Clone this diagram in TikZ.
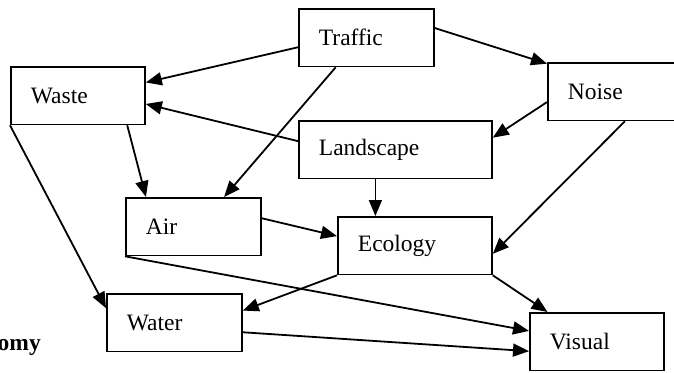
\documentclass[tikz,border=0pt]{standalone}
\usepackage{fontspec}
\setmainfont{Liberation Serif}
\usetikzlibrary{arrows.meta,calc}
\tikzset{
		>={Triangle[length=16pt,width=13pt]},
			box/.style={draw=black, line width=1.8pt, anchor=north west,
				text width=#1, inner xsep=20pt, inner ysep=0pt,
				minimum height=57.5pt, align=left,
				font=\fontsize{23.5}{28}\selectfont},
			link/.style={->, line width=1.8pt},
			annot/.style={font=\fontsize{23.5}{28}\selectfont\bfseries},
		}
\begin{document}
\begin{tikzpicture}
				[x=1pt, y=-1pt]
				\clip (0,0) rectangle (674,372);
				\node[box=95pt] (traffic)   at (298,8)   {Traffic};
				\node[box=94pt] (waste)     at (10,66)   {Waste};
				\node[box=90pt] (noise)     at (547,62)  {Noise};
				\node[box=153pt] (landscape) at (298,120) {Landscape};
				\node[box=95pt] (air)       at (125,197) {Air};
				\node[box=114pt] (ecology)  at (337,216) {Ecology};
				\node[box=95pt] (water)     at (106,293) {Water};
				\node[box=94pt] (visual)    at (529,312) {Visual};

				\node[annot, anchor=base east, inner sep=0pt] (omy) at (41,350) {omy};

				\draw[link] (traffic.188)     -- (waste.11);
				\draw[link] (traffic.224)     -- (air.44);
				\draw[link] (traffic.8)       -- (noise.157);
				\draw[link] (landscape.175)   -- (waste.353);
				\draw[link] (noise.189)       -- (landscape.7);
				\draw[link] (noise.292)       -- (ecology.354);
				\draw[link] (landscape.236)   -- (landscape.236 |- ecology.north);
				\draw[link] (waste.329)       -- (air.148);
				\draw[link] (waste.south west) -- (water.168);
				\draw[link] (air.7)           -- (ecology.173);
				\draw[link] (air.south west)  -- (visual.171);
				\draw[link] (ecology.south west) -- (water.10);
				\draw[link] (ecology.south east) -- (visual.149);
				\draw[link] (water.352)       -- (visual.188);

			\end{tikzpicture}
\end{document}
